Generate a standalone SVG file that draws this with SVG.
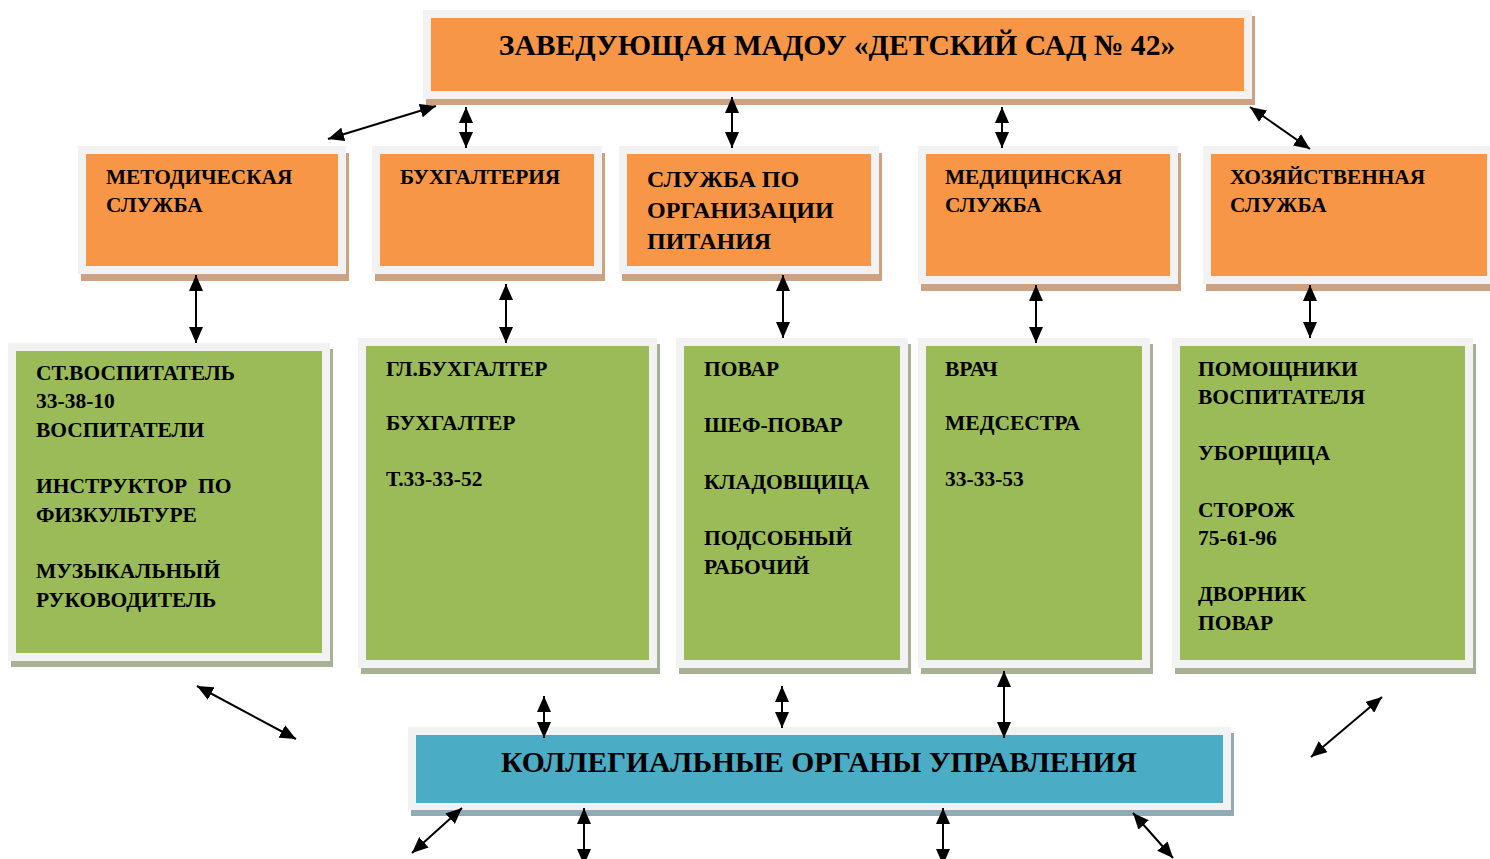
<svg xmlns="http://www.w3.org/2000/svg" width="1490" height="859" viewBox="0 0 1490 859">
<style>
.frame{fill:#f2f2f2}
.so{fill:#cda282}
.sg{fill:#a8b096}
.sb{fill:#8eabb6}
.o{fill:#f79646}
.g{fill:#9bbb59}
.b{fill:#4bacc6}
text{font-family:"Liberation Serif","Times New Roman",serif;font-weight:bold;fill:#000}
.t1{font-size:29.6px}
.t2{font-size:21.3px}
.t3{font-size:24px}
.t4{font-size:21.5px}
.c line{stroke:#000;stroke-width:2;marker-start:url(#ah);marker-end:url(#ah)}
</style>
<defs>
<marker id="ah" viewBox="0 0 16 14" refX="16" refY="7" markerWidth="16" markerHeight="14" markerUnits="userSpaceOnUse" orient="auto-start-reverse">
<path d="M0,0 L16,7 L0,14 z" fill="#000"/>
</marker>
</defs>
<rect width="1490" height="859" fill="#fff"/>

<g id="head">
<rect class="so" x="426" y="16" width="829" height="89"/>
<rect class="frame" x="423" y="10" width="829" height="89"/>
<rect class="o" x="431" y="18" width="813" height="73"/>
<text class="t1" x="837" y="55" text-anchor="middle">ЗАВЕДУЮЩАЯ МАДОУ «ДЕТСКИЙ САД № 42»</text>
</g>

<g id="metod">
<rect class="so" x="81" y="153" width="268" height="128"/>
<rect class="frame" x="78" y="146" width="268" height="128"/>
<rect class="o" x="86" y="154" width="252" height="112"/>
<text class="t2" x="106" y="184">МЕТОДИЧЕСКАЯ</text>
<text class="t2" x="106" y="212">СЛУЖБА</text>
</g>

<g id="buh">
<rect class="so" x="375" y="153" width="230" height="128"/>
<rect class="frame" x="372" y="146" width="230" height="128"/>
<rect class="o" x="380" y="154" width="214" height="112"/>
<text class="t2" x="400" y="184">БУХГАЛТЕРИЯ</text>
</g>

<g id="pit">
<rect class="so" x="622" y="153" width="260" height="128"/>
<rect class="frame" x="619" y="146" width="260" height="128"/>
<rect class="o" x="627" y="154" width="244" height="112"/>
<text class="t3" x="647" y="187">СЛУЖБА ПО</text>
<text class="t3" x="647" y="218">ОРГАНИЗАЦИИ</text>
<text class="t3" x="647" y="249">ПИТАНИЯ</text>
</g>

<g id="med">
<rect class="so" x="921" y="153" width="260" height="138"/>
<rect class="frame" x="918" y="146" width="260" height="138"/>
<rect class="o" x="926" y="154" width="244" height="122"/>
<text class="t2" x="945" y="184">МЕДИЦИНСКАЯ</text>
<text class="t2" x="945" y="212">СЛУЖБА</text>
</g>

<g id="hoz">
<rect class="so" x="1206" y="153" width="292" height="138"/>
<rect class="frame" x="1203" y="146" width="292" height="138"/>
<rect class="o" x="1211" y="154" width="276" height="122"/>
<text class="t2" x="1230" y="184">ХОЗЯЙСТВЕННАЯ</text>
<text class="t2" x="1230" y="212">СЛУЖБА</text>
</g>

<g id="g1">
<rect class="sg" x="11" y="349" width="322" height="318"/>
<rect class="frame" x="8" y="343" width="322" height="318"/>
<rect class="g" x="16" y="351" width="306" height="302"/>
<text class="t4" x="36" y="380">СТ.ВОСПИТАТЕЛЬ</text>
<text class="t4" x="36" y="408">33-38-10</text>
<text class="t4" x="36" y="437">ВОСПИТАТЕЛИ</text>
<text class="t4" x="36" y="493" xml:space="preserve">ИНСТРУКТОР  ПО</text>
<text class="t4" x="36" y="522">ФИЗКУЛЬТУРЕ</text>
<text class="t4" x="36" y="578">МУЗЫКАЛЬНЫЙ</text>
<text class="t4" x="36" y="607">РУКОВОДИТЕЛЬ</text>
</g>

<g id="g2">
<rect class="sg" x="361" y="344" width="299" height="330"/>
<rect class="frame" x="358" y="338" width="299" height="330"/>
<rect class="g" x="366" y="346" width="283" height="314"/>
<text class="t4" x="386" y="376">ГЛ.БУХГАЛТЕР</text>
<text class="t4" x="386" y="430">БУХГАЛТЕР</text>
<text class="t4" x="386" y="486">Т.33-33-52</text>
</g>

<g id="g3">
<rect class="sg" x="679" y="344" width="232" height="330"/>
<rect class="frame" x="676" y="338" width="232" height="330"/>
<rect class="g" x="684" y="346" width="216" height="314"/>
<text class="t4" x="704" y="376">ПОВАР</text>
<text class="t4" x="704" y="432">ШЕФ-ПОВАР</text>
<text class="t4" x="704" y="489">КЛАДОВЩИЦА</text>
<text class="t4" x="704" y="545">ПОДСОБНЫЙ</text>
<text class="t4" x="704" y="574">РАБОЧИЙ</text>
</g>

<g id="g4">
<rect class="sg" x="921" y="344" width="232" height="330"/>
<rect class="frame" x="918" y="338" width="232" height="330"/>
<rect class="g" x="926" y="346" width="216" height="314"/>
<text class="t4" x="945" y="376">ВРАЧ</text>
<text class="t4" x="945" y="430">МЕДСЕСТРА</text>
<text class="t4" x="945" y="486">33-33-53</text>
</g>

<g id="g5">
<rect class="sg" x="1175" y="344" width="301" height="330"/>
<rect class="frame" x="1172" y="338" width="301" height="330"/>
<rect class="g" x="1180" y="346" width="285" height="314"/>
<text class="t4" x="1198" y="376">ПОМОЩНИКИ</text>
<text class="t4" x="1198" y="404">ВОСПИТАТЕЛЯ</text>
<text class="t4" x="1198" y="460">УБОРЩИЦА</text>
<text class="t4" x="1198" y="517">СТОРОЖ</text>
<text class="t4" x="1198" y="545">75-61-96</text>
<text class="t4" x="1198" y="601">ДВОРНИК</text>
<text class="t4" x="1198" y="630">ПОВАР</text>
</g>

<g id="kol">
<rect class="sb" x="411" y="733" width="823" height="83"/>
<rect class="frame" x="408" y="727" width="823" height="83"/>
<rect class="b" x="416" y="735" width="807" height="68"/>
<text class="t1" x="819" y="772" text-anchor="middle">КОЛЛЕГИАЛЬНЫЕ ОРГАНЫ УПРАВЛЕНИЯ</text>
</g>

<g id="connectors" class="c">
<line x1="328" y1="139" x2="436" y2="106"/>
<line x1="466" y1="107" x2="466" y2="148"/>
<line x1="732" y1="97" x2="732" y2="148"/>
<line x1="1002" y1="107" x2="1002" y2="148"/>
<line x1="1250" y1="107" x2="1310" y2="149"/>
<line x1="196" y1="275" x2="196" y2="343"/>
<line x1="506" y1="284" x2="506" y2="343"/>
<line x1="783" y1="275" x2="783" y2="338"/>
<line x1="1036" y1="285" x2="1036" y2="343"/>
<line x1="1310" y1="285" x2="1310" y2="338"/>
<line x1="197" y1="686" x2="296" y2="739"/>
<line x1="544" y1="696" x2="544" y2="738"/>
<line x1="782" y1="686" x2="782" y2="728"/>
<line x1="1004" y1="671" x2="1004" y2="738"/>
<line x1="1382" y1="697" x2="1311" y2="757"/>
<line x1="462" y1="808" x2="412" y2="853"/>
<line x1="584" y1="808" x2="584" y2="865"/>
<line x1="943" y1="808" x2="943" y2="865"/>
<line x1="1133" y1="813" x2="1173" y2="858"/>
</g>
</svg>
